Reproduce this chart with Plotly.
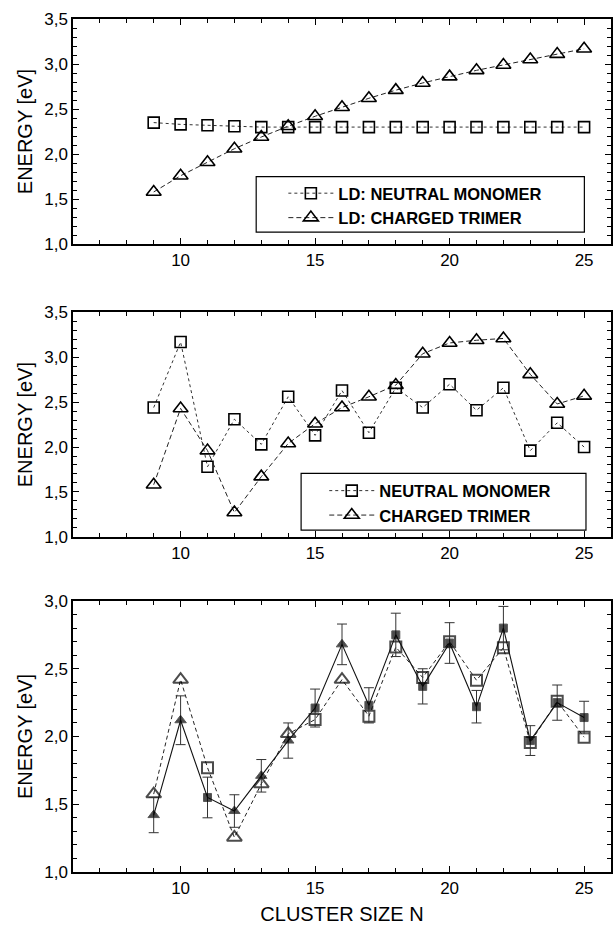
import plotly.graph_objects as go

# ---------------- data ----------------
cluster_size = [9, 10, 11, 12, 13, 14, 15, 16, 17, 18, 19, 20, 21, 22, 23, 24, 25]

# top panel (LD model)
ld_neutral_monomer = [2.35, 2.33, 2.32, 2.31, 2.30, 2.30, 2.30, 2.30, 2.30,
                      2.30, 2.30, 2.30, 2.30, 2.30, 2.30, 2.30, 2.30]
ld_charged_trimer = [1.58, 1.76, 1.91, 2.06, 2.19, 2.31, 2.42, 2.52, 2.62,
                     2.71, 2.79, 2.86, 2.93, 2.99, 3.05, 3.11, 3.17]

# middle panel
neutral_monomer = [2.44, 3.17, 1.78, 2.31, 2.03, 2.56, 2.13, 2.63, 2.16,
                   2.66, 2.44, 2.70, 2.41, 2.66, 1.96, 2.27, 2.00]
charged_trimer = [1.58, 2.43, 1.96, 1.27, 1.67, 2.04, 2.26, 2.44, 2.56,
                  2.69, 3.04, 3.16, 3.19, 3.21, 2.81, 2.48, 2.57]

# bottom panel: lowest calculated channel (open) and experiment (filled)
lowest_channel = [1.575, 2.42, 1.77, 1.255, 1.65, 2.02, 2.125, 2.42, 2.15,
                  2.66, 2.435, 2.70, 2.415, 2.655, 1.955, 2.26, 1.995]
lowest_channel_type = ["tri", "tri", "sq", "tri", "tri", "tri", "sq", "tri", "sq",
                       "sq", "sq", "sq", "sq", "sq", "sq", "sq", "sq"]
experiment = [1.42, 2.12, 1.55, 1.45, 1.71, 1.97, 2.21, 2.68, 2.23,
              2.75, 2.37, 2.69, 2.22, 2.80, 1.97, 2.25, 2.14]
experiment_err = [0.13, 0.18, 0.15, 0.12, 0.12, 0.13, 0.14, 0.15, 0.13,
                  0.16, 0.13, 0.15, 0.12, 0.16, 0.11, 0.13, 0.12]
experiment_type = ["tri", "tri", "sq", "tri", "tri", "tri", "sq", "tri", "sq",
                   "sq", "sq", "sq", "sq", "sq", "sq", "sq", "sq"]

# ---------------- figure ----------------
FONT = "Liberation Sans, Arial, Helvetica, sans-serif"
open_sym = {"tri": "triangle-up-open", "sq": "square-open"}
fill_sym = {"tri": "triangle-up", "sq": "square"}
open_size = {"tri": 13, "sq": 11}
fill_size = {"tri": 10, "sq": 8}

fig = go.Figure()

# top panel
fig.add_trace(go.Scatter(
    x=cluster_size, y=ld_neutral_monomer, mode="lines+markers",
    name="LD: NEUTRAL MONOMER", legend="legend",
    line=dict(color="#333", width=1, dash="dot"),
    marker=dict(symbol="square-open", size=11, color="black", line=dict(width=1.6)),
    xaxis="x", yaxis="y"))
fig.add_trace(go.Scatter(
    x=cluster_size, y=ld_charged_trimer, mode="lines+markers",
    name="LD: CHARGED TRIMER", legend="legend",
    line=dict(color="#222", width=1, dash="5px,3px"),
    marker=dict(symbol="triangle-up-open", size=13, color="black", line=dict(width=1.6)),
    xaxis="x", yaxis="y"))

# middle panel
fig.add_trace(go.Scatter(
    x=cluster_size, y=neutral_monomer, mode="lines+markers",
    name="NEUTRAL MONOMER", legend="legend2",
    line=dict(color="#333", width=1, dash="dot"),
    marker=dict(symbol="square-open", size=11, color="black", line=dict(width=1.6)),
    xaxis="x2", yaxis="y2"))
fig.add_trace(go.Scatter(
    x=cluster_size, y=charged_trimer, mode="lines+markers",
    name="CHARGED TRIMER", legend="legend2",
    line=dict(color="#222", width=1, dash="5px,3px"),
    marker=dict(symbol="triangle-up-open", size=13, color="black", line=dict(width=1.6)),
    xaxis="x2", yaxis="y2"))

# bottom panel
fig.add_trace(go.Scatter(
    x=cluster_size, y=lowest_channel, mode="lines+markers", showlegend=False,
    line=dict(color="#222", width=1, dash="4px,3px"),
    marker=dict(symbol=[open_sym[t] for t in lowest_channel_type],
                size=[open_size[t] for t in lowest_channel_type],
                color="black", line=dict(width=2)),
    xaxis="x3", yaxis="y3"))
fig.add_trace(go.Scatter(
    x=cluster_size, y=experiment, mode="lines+markers", showlegend=False,
    line=dict(color="#111", width=1.1),
    marker=dict(symbol=[fill_sym[t] for t in experiment_type],
                size=[fill_size[t] for t in experiment_type],
                color="black"),
    error_y=dict(type="data", array=experiment_err, color="#333",
                 thickness=1, width=5),
    xaxis="x3", yaxis="y3"))

axis_common = dict(
    showline=True, linecolor="black", linewidth=1.5, mirror="ticks",
    ticks="inside", ticklen=6, tickcolor="black", tickwidth=1.2,
    showgrid=False, zeroline=False,
    tickfont=dict(family=FONT, size=17, color="black"),
)
xa = dict(axis_common, range=[6, 26], dtick=5, tick0=0,
          minor=dict(dtick=1, tick0=0, ticks="inside", ticklen=4, tickcolor="black",
                     tickwidth=1.2, showgrid=False))
ya = dict(axis_common, dtick=0.5, tick0=1, tickformat=".1f",
          minor=dict(dtick=0.1, tick0=1, ticks="inside", ticklen=4, tickcolor="black",
                     tickwidth=1.2, showgrid=False),
          title=dict(text="ENERGY [eV]", font=dict(family=FONT, size=20, color="black"),
                     standoff=6))

legend_common = dict(xanchor="left", yanchor="top", bgcolor="rgba(0,0,0,0)",
                     borderwidth=0, tracegroupgap=0, itemwidth=45,
                     font=dict(family=FONT, size=16.5, color="black", weight="bold"))

fig.update_layout(
    width=614, height=927,
    margin=dict(l=73, r=1, t=19, b=55),
    paper_bgcolor="white", plot_bgcolor="white",
    separators=",.",
    xaxis=dict(xa, domain=[0, 1], anchor="y"),
    yaxis=dict(ya, domain=[0.736, 1.0], range=[1, 3.5], anchor="x"),
    xaxis2=dict(xa, domain=[0, 1], anchor="y2"),
    yaxis2=dict(ya, domain=[0.393, 0.656], range=[1, 3.5], anchor="x2"),
    xaxis3=dict(xa, domain=[0, 1], anchor="y3",
                title=dict(text="CLUSTER SIZE N", font=dict(family=FONT, size=20, color="black"),
                           standoff=10)),
    yaxis3=dict(ya, domain=[0, 0.3177], range=[1, 3.0], anchor="x3"),
    legend=dict(legend_common, x=0.391, y=0.816),
    legend2=dict(legend_common, x=0.467, y=0.4673),
    shapes=[
        dict(type="rect", xref="x", yref="y", x0=12.81, x1=25.01, y0=1.133, y1=1.751,
             line=dict(color="black", width=1.2)),
        dict(type="rect", xref="x2", yref="y2", x0=14.48, x1=25.07, y0=1.075, y1=1.706,
             line=dict(color="black", width=1.2)),
    ],
)

fig.write_html("out.html")
